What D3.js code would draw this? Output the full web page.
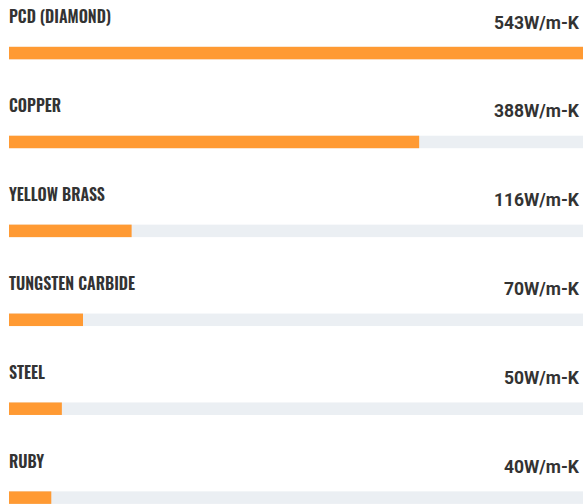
<!DOCTYPE html>
<html><head><meta charset="utf-8">
<script src="https://cdn.jsdelivr.net/npm/d3@7/dist/d3.min.js"></script>
<style>
html,body{margin:0;padding:0;background:#fff;}
svg{display:block;}
</style></head>
<body>
<svg id="chart" width="583" height="504"></svg>
<script>
const materials = ["PCD (DIAMOND)", "COPPER", "YELLOW BRASS", "TUNGSTEN CARBIDE", "STEEL", "RUBY"];
const conductivity = [543, 388, 116, 70, 50, 40];
const unit = "W/m-K";

const svg = d3.select("#chart");
const x = d3.scaleLinear().domain([0, 543]).range([9, 583]);
const row = d3.scaleBand().domain(materials).range([0, 533.5]);

const g = svg.selectAll("g.row").data(materials.map((m, i) => ({m, v: conductivity[i]})))
  .join("g").attr("class", "row")
  .attr("transform", d => `translate(0,${row(d.m)})`);

g.append("rect").attr("x", x(0)).attr("y", 46.8).attr("width", x(543) - x(0)).attr("height", 12.5)
  .attr("fill", "#EBEFF3");
g.append("rect").attr("x", x(0)).attr("y", 46.8).attr("width", d => x(d.v) - x(0)).attr("height", 12.5)
  .attr("fill", "#FF9A33");

g.append("text").attr("x", 9).attr("y", 23)
  .attr("font-family", "Oswald").attr("font-weight", 600).attr("font-size", 16)
  .attr("fill", "#333")
  .text(d => d.m);

g.append("text").attr("x", 579).attr("y", 28.5).attr("text-anchor", "end")
  .attr("font-family", "Roboto").attr("font-weight", 700).attr("font-size", 17.5)
  .attr("fill", "#333")
  .text(d => d.v + unit);
</script>
</body></html>
